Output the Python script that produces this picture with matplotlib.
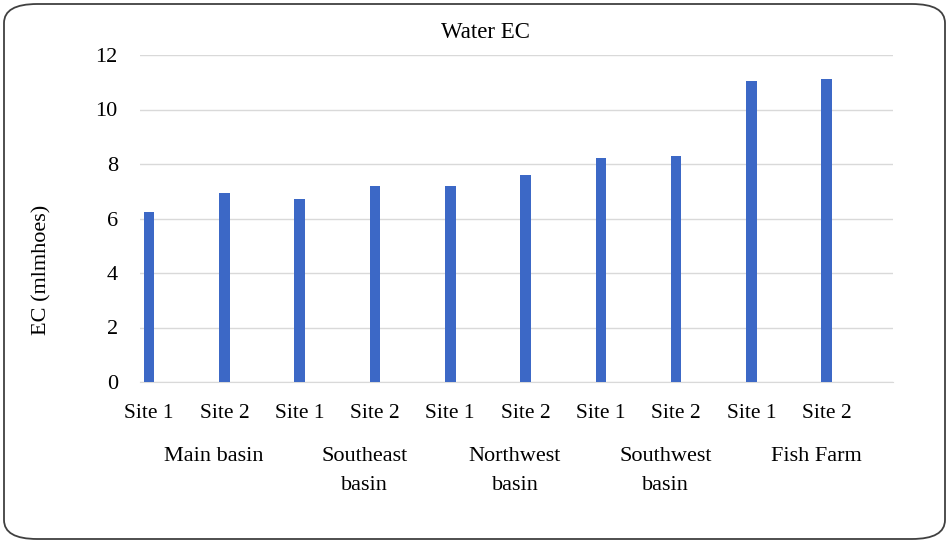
import matplotlib
matplotlib.use("Agg")
import matplotlib.pyplot as plt
from matplotlib.patches import FancyBboxPatch

sites = ["Site 1", "Site 2", "Site 1", "Site 2", "Site 1", "Site 2", "Site 1", "Site 2", "Site 1", "Site 2"]
groups = ["Main basin", "Southeast\nbasin", "Northwest\nbasin", "Southwest\nbasin", "Fish Farm"]
ec_values = [6.25, 6.95, 6.7, 7.18, 7.18, 7.58, 8.22, 8.28, 11.04, 11.12]
yticks = [0, 2, 4, 6, 8, 10, 12]

plt.rcParams['font.family'] = ['Liberation Serif', 'DejaVu Serif']

fig = plt.figure(figsize=(9.49, 5.43), dpi=100)
W, H = 949, 543
ax = fig.add_axes([140 / W, 1 - 382 / H, (893 - 140) / W, (382 - 55) / H])

x = list(range(len(ec_values)))
ax.bar(x, ec_values, width=0.14, color="#3C68C6", zorder=3)

ax.set_xlim(-0.12, 9.88)
ax.set_ylim(0, 12)
ax.set_yticks(yticks)
ax.set_yticklabels([str(t) for t in yticks], fontsize=16)
ax.tick_params(axis='y', length=0, pad=16)
ax.tick_params(axis='x', length=0, pad=16)
ax.set_xticks(x)
ax.set_xticklabels(sites, fontsize=15.5)
ax.grid(axis='y', color="#D9D9D9", linewidth=1, zorder=0)
for s in ["top", "right", "left"]:
    ax.spines[s].set_visible(False)
ax.spines["bottom"].set_color("#D9D9D9")

for i, g in enumerate(groups):
    cx = 2 * i + 0.5 + 0.36
    ax.text(cx, -2.4, g, ha='center', va='top', fontsize=16, linespacing=1.7,
            transform=ax.transData)

fig.text(485 / W, 1 - 32 / H, "Water EC", ha='center', va='center', fontsize=16.5)
fig.text(42 / W, 1 - 270 / H, "EC (mlmhoes)", ha='center', va='center',
         rotation=90, fontsize=16)

border = FancyBboxPatch((4 / W, 4 / H), (W - 8) / W, (H - 8) / H,
                        boxstyle="round,pad=0,rounding_size=0.035",
                        transform=fig.transFigure, fill=False,
                        edgecolor="#404040", linewidth=1.3)
fig.patches.append(border)

fig.savefig("out.png", dpi=100)
